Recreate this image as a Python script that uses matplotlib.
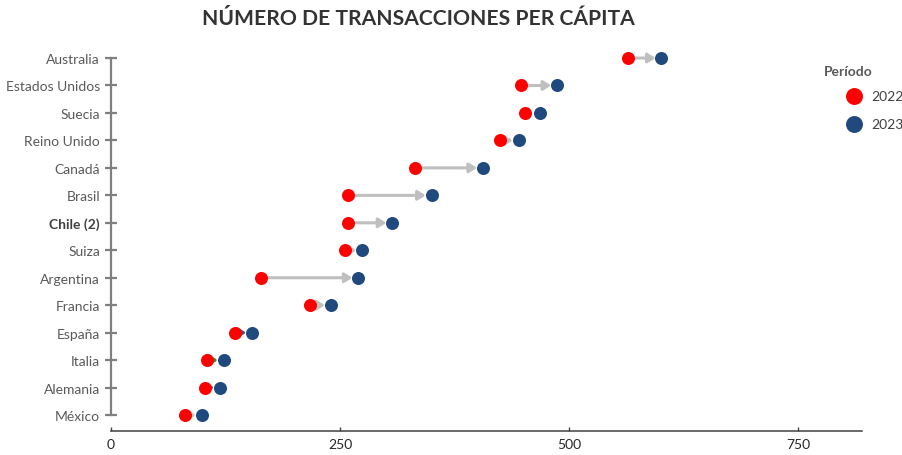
import matplotlib.pyplot as plt
import numpy as np

plt.rcParams['font.family'] = ['Lato', 'DejaVu Sans']

# data
paises = ['Australia', 'Estados Unidos', 'Suecia', 'Reino Unido', 'Canadá', 'Brasil',
          'Chile (2)', 'Suiza', 'Argentina', 'Francia', 'España', 'Italia', 'Alemania', 'México']
val_2022 = [565, 448, 452, 425, 332, 259, 259, 255, 164, 217, 135, 105, 103, 81]
val_2023 = [601, 487, 468, 445, 406, 350, 307, 274, 270, 240, 154, 123, 119, 99]
x_ticks = [0, 250, 500, 750]

# arrow colour per row (None = no arrow)
arrow_col = ['#bfbfbf', '#bfbfbf', None, '#bfbfbf', '#bfbfbf', '#bfbfbf', '#bfbfbf',
             '#bfbfbf', '#bfbfbf', '#bfbfbf', '#5e4d6c', '#5b7b30', '#5e4d6c', '#c8c8c8']

red = '#ff0000'
blue = '#204a7e'

fig = plt.figure(figsize=(9.03, 4.56), dpi=100)
ax = fig.add_axes([111/903, 1-432/456, (862-111)/903, 0.836])

n = len(paises)
y = np.arange(n)[::-1]

for i in range(n):
    if arrow_col[i] is None:
        continue
    ax.annotate('', xy=(val_2023[i], y[i]), xytext=(val_2022[i], y[i]),
                arrowprops=dict(arrowstyle='-|>,head_length=0.45,head_width=0.28',
                                color=arrow_col[i], lw=2.2, shrinkA=0, shrinkB=4.2),
                zorder=2)

ax.scatter(val_2022, y, s=88, color=red, zorder=3, label='2022', linewidths=0)
ax.scatter(val_2023, y, s=88, color=blue, zorder=4, label='2023', linewidths=0)

ax.set_xlim(0, 820)
ax.set_ylim(-0.58, 13.3)
ax.set_yticks(y)
ax.set_yticklabels(paises, fontsize=10, color='#595959')
for lab in ax.get_yticklabels():
    if lab.get_text().startswith('Chile'):
        lab.set_fontweight('bold')
        lab.set_color('#404040')
ax.set_xticks(x_ticks)
ax.set_xticklabels([str(v) for v in x_ticks], fontsize=10, color='#262626')

for s in ['top', 'right']:
    ax.spines[s].set_visible(False)
ax.spines['left'].set_bounds(0, n-1)
ax.spines['left'].set_color('#7f7f7f')
ax.spines['left'].set_linewidth(1.6)
ax.spines['bottom'].set_color('#404040')
ax.spines['bottom'].set_linewidth(1.1)
ax.tick_params(axis='y', direction='inout', length=8, width=1.6, color='#7f7f7f', pad=4)
ax.tick_params(axis='x', direction='in', length=3, width=1, color='#404040', pad=5)

fig.text(0.463, 1-19/456, 'NÚMERO DE TRANSACCIONES PER CÁPITA', ha='center', va='center',
         fontsize=15.2, fontweight='bold', color='#333333')

# legend: title drawn apart so it sits left of the markers as in the reference
fig.text(848/903, 1-72/456, 'Período', ha='center', va='center', fontsize=10,
         fontweight='bold', color='#595959')
leg = fig.legend(loc='upper left', bbox_to_anchor=(842/903, 1-85/456), frameon=False,
                 fontsize=10, markerscale=1.3, handlelength=1.0, handletextpad=0.7,
                 borderaxespad=0, labelspacing=1.15, labelcolor='#404040')

fig.savefig('out.png', dpi=100)
